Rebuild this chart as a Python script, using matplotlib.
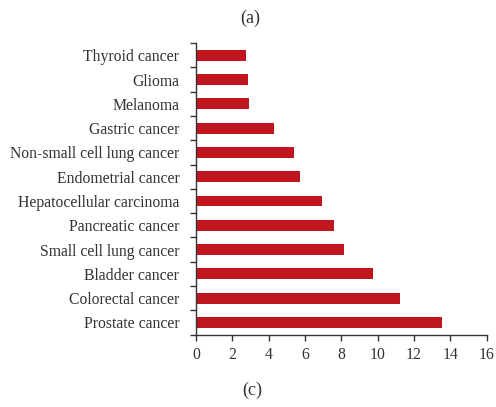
import matplotlib
matplotlib.use('Agg')
import matplotlib.pyplot as plt
import numpy as np

plt.rcParams['font.family'] = 'Liberation Serif'

# data, top to bottom as in the figure
cancers = ["Thyroid cancer", "Glioma", "Melanoma", "Gastric cancer",
           "Non-small cell lung cancer", "Endometrial cancer",
           "Hepatocellular carcinoma", "Pancreatic cancer",
           "Small cell lung cancer", "Bladder cancer",
           "Colorectal cancer", "Prostate cancer"]
values = [2.73, 2.86, 2.92, 4.29, 5.39, 5.71, 6.94, 7.6, 8.15, 9.74, 11.23, 13.54]
xticks = [0, 2, 4, 6, 8, 10, 12, 14, 16]

txt = '#333333'
bar_col = '#C0161F'

fig = plt.figure(figsize=(4.96, 4.07), dpi=100)
ax = fig.add_axes([0.395, 0.178, 0.586, 0.716])

ypos = np.arange(len(cancers))[::-1]
ax.barh(ypos, values, height=0.45, color=bar_col)

ax.set_ylim(-0.5, len(cancers) - 0.5)
ax.set_xlim(0, 16)
ax.set_yticks(ypos)
ax.set_yticklabels(cancers, fontsize=11.3, color=txt)
ax.set_yticks(np.arange(-0.5, len(cancers)), minor=True)
ax.tick_params(axis='y', which='major', length=0, pad=12)
ax.tick_params(axis='y', which='minor', length=4, width=1, color=txt)
ax.set_xticks(xticks)
ax.set_xticklabels([str(t) for t in xticks], fontsize=11.3, color=txt)
ax.tick_params(axis='x', length=4, width=1, color=txt, pad=5)

for s in ['top', 'right']:
    ax.spines[s].set_visible(False)
for s in ['left', 'bottom']:
    ax.spines[s].set_color(txt)
    ax.spines[s].set_linewidth(1)

fig.text(0.505, 0.955, "(a)", ha='center', va='center', fontsize=13, color=txt)
fig.text(0.508, 0.04, "(c)", ha='center', va='center', fontsize=13, color=txt)

fig.savefig('out.png', dpi=100)
